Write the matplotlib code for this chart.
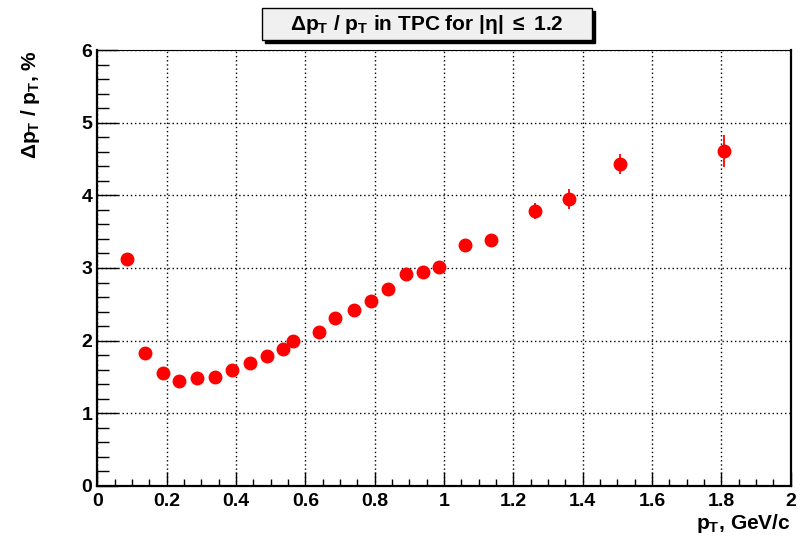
import matplotlib
matplotlib.use("Agg")
import matplotlib.pyplot as plt
from matplotlib.patches import Rectangle
from matplotlib.ticker import MultipleLocator

plt.rcParams['font.family'] = ['Liberation Sans', 'DejaVu Sans']
plt.rcParams['font.weight'] = 'bold'
plt.rcParams['axes.labelweight'] = 'bold'
plt.rcParams['mathtext.fontset'] = 'custom'
plt.rcParams['mathtext.rm'] = 'Liberation Sans:bold'
plt.rcParams['mathtext.it'] = 'Liberation Sans:bold'
plt.rcParams['mathtext.bf'] = 'Liberation Sans:bold'

# pT bins (GeV/c) and relative momentum resolution (%)
pt = [0.087, 0.139, 0.190, 0.236, 0.287, 0.339, 0.388, 0.440, 0.490, 0.537,
      0.565, 0.639, 0.687, 0.739, 0.790, 0.838, 0.889, 0.939, 0.986, 1.061,
      1.135, 1.263, 1.361, 1.509, 1.808]
res = [3.13, 1.83, 1.55, 1.45, 1.48, 1.50, 1.60, 1.69, 1.79, 1.88,
       2.00, 2.12, 2.31, 2.42, 2.54, 2.71, 2.92, 2.94, 3.02, 3.32,
       3.39, 3.79, 3.95, 4.43, 4.61]
res_err = [0.05, 0.04, 0.04, 0.04, 0.04, 0.04, 0.04, 0.04, 0.04, 0.04,
           0.05, 0.05, 0.05, 0.05, 0.06, 0.06, 0.06, 0.06, 0.07, 0.07,
           0.08, 0.11, 0.14, 0.14, 0.22]
xtick_vals = [0, 0.2, 0.4, 0.6, 0.8, 1.0, 1.2, 1.4, 1.6, 1.8, 2.0]
xtick_text = ['0', '0.2', '0.4', '0.6', '0.8', '1', '1.2', '1.4', '1.6', '1.8', '2']

W, H = 807, 549
fig = plt.figure(figsize=(W / 100, H / 100), dpi=100)
ax = fig.add_axes([97.3 / W, 1 - 486 / H, (790.7 - 97.3) / W, (486 - 50) / H])

ax.errorbar(pt, res, yerr=res_err, fmt='o', color='red', ms=9,
            elinewidth=1.3, capsize=0, zorder=3)

ax.set_xlim(0, 2)
ax.set_ylim(0, 6)
ax.xaxis.set_minor_locator(MultipleLocator(0.05))
ax.yaxis.set_major_locator(MultipleLocator(1))
ax.yaxis.set_minor_locator(MultipleLocator(0.2))
ax.set_xticks(xtick_vals)
ax.set_xticklabels(xtick_text)

ax.grid(True, which='major', color='black', linestyle=(0, (1, 2)), linewidth=1)
ax.tick_params(axis='x', which='major', direction='in', length=10, width=1,
               labelsize=14, pad=5)
ax.tick_params(axis='x', which='minor', direction='in', length=5, width=1)
ax.tick_params(axis='y', which='major', direction='in', length=15, width=1,
               labelsize=14, pad=3.5)
ax.tick_params(axis='y', which='minor', direction='in', length=8.5, width=1)

for side in ['left', 'bottom', 'right']:
    ax.spines[side].set_linewidth(1.6)
ax.spines['top'].set_linewidth(0.8)

ax.set_xlabel(r'p$_{T}$, GeV/c', fontsize=15, loc='right')
ax.xaxis.set_label_coords(1.0, -0.06)
ax.set_ylabel(r'$\Delta$p$_{T}$ / p$_{T}$, %', fontsize=15, loc='top')
ax.yaxis.set_label_coords(-0.08, 1.0)

# ROOT-style title box with shadow
bx0, bx1, by0, by1 = 262, 592, 8, 40
fig.patches.append(Rectangle(((bx0 + 3) / W, 1 - (by1 + 3) / H), (bx1 - bx0) / W,
                             (by1 - by0) / H, transform=fig.transFigure,
                             facecolor='black', edgecolor='black', zorder=1))
fig.patches.append(Rectangle((bx0 / W, 1 - by1 / H), (bx1 - bx0) / W,
                             (by1 - by0) / H, transform=fig.transFigure,
                             facecolor='#f0f0f0', edgecolor='black', lw=1, zorder=2))
fig.text((bx0 + bx1) / 2 / W, 1 - (by0 + by1) / 2 / H,
         r'$\Delta$p$_{T}$ / p$_{T}$ in TPC for |$\eta$| $\leq$ 1.2',
         ha='center', va='center', fontsize=15, zorder=3)

fig.savefig('out.png', dpi=100)
